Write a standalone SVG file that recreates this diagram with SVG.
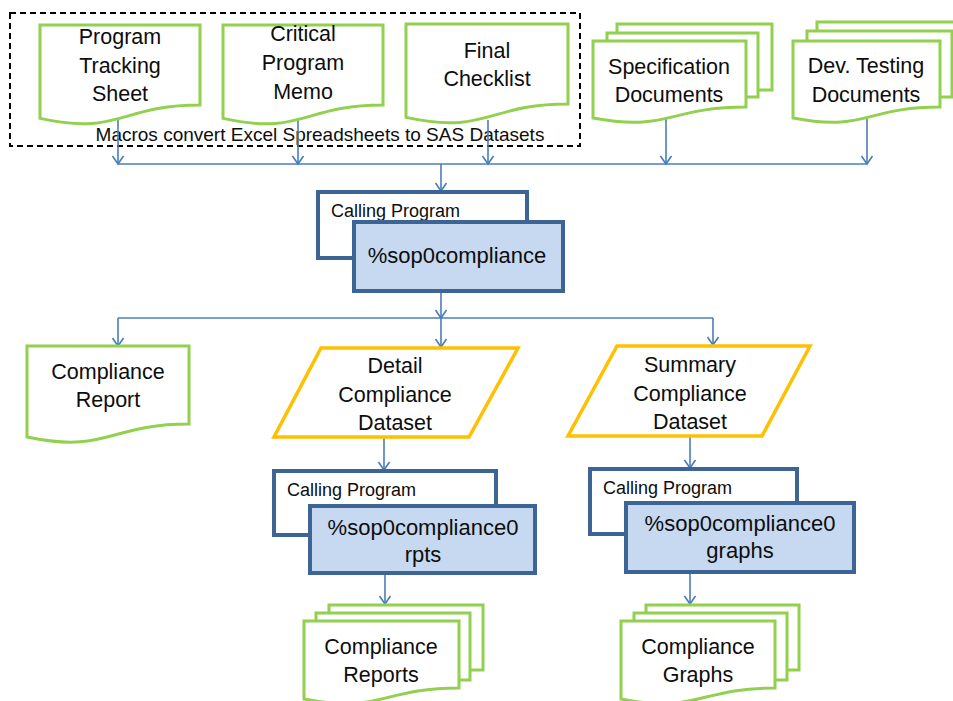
<svg xmlns="http://www.w3.org/2000/svg" width="953" height="701" viewBox="0 0 953 701">
<defs>
<marker id="arr" markerUnits="userSpaceOnUse" markerWidth="14" markerHeight="14" refX="10" refY="7" orient="auto" viewBox="0 0 14 14">
<path d="M2,1.5 L10,7 L2,12.5" fill="none" stroke="#4a7ebb" stroke-width="1.6"/>
</marker>
</defs>
<style>
text{font-family:"Liberation Sans",Arial,sans-serif;fill:#0d0d0d;text-anchor:middle;font-size:21.5px}
.doc{fill:#fff;stroke:#92d050;stroke-width:3}
.data{fill:#fff;stroke:#ffc000;stroke-width:3.5}
.outer{fill:#fff;stroke:#3c6494;stroke-width:4}
.inner{fill:#c6d9f1;stroke:#3c6494;stroke-width:4}
.cp{text-anchor:start;font-size:18px}
.mac{font-size:22px}
.conn{fill:none;stroke:#4a7ebb;stroke-width:1.6}
</style>
<rect x="10" y="13" width="570" height="133" fill="none" stroke="#000" stroke-width="2" stroke-dasharray="6,4"/>
<text x="320" y="141" style="font-size:19px">Macros convert Excel Spreadsheets to SAS Datasets</text>
<g id="connectors">
<path class="conn" d="M118,120 V164" marker-end="url(#arr)"/>
<path class="conn" d="M298,120 V164" marker-end="url(#arr)"/>
<path class="conn" d="M488,120 V164" marker-end="url(#arr)"/>
<path class="conn" d="M666,114 V164" marker-end="url(#arr)"/>
<path class="conn" d="M867,114 V164" marker-end="url(#arr)"/>
<path class="conn" d="M118,164 H867"/>
<path class="conn" d="M441,164 V191" marker-end="url(#arr)"/>
<path class="conn" d="M441,291 V318" marker-end="url(#arr)"/>
<path class="conn" d="M118,318 H713"/>
<path class="conn" d="M118,318 V346" marker-end="url(#arr)"/>
<path class="conn" d="M441,318 V347" marker-end="url(#arr)"/>
<path class="conn" d="M713,318 V345" marker-end="url(#arr)"/>
<path class="conn" d="M384,437 V470" marker-end="url(#arr)"/>
<path class="conn" d="M385,573 V604" marker-end="url(#arr)"/>
<path class="conn" d="M690,436 V468" marker-end="url(#arr)"/>
<path class="conn" d="M690,572 V604" marker-end="url(#arr)"/>
</g>
<g id="program-tracking-sheet">
<path class="doc" d="M40,25 H200 V105 C120,105 120,136 40,118.4 Z"/>
<text x="120" y="44">Program</text>
<text x="120" y="73">Tracking</text>
<text x="120" y="101">Sheet</text>
</g>
<g id="critical-program-memo">
<path class="doc" d="M223,25 H383 V105 C303,105 303,136 223,118.4 Z"/>
<text x="303" y="41">Critical</text>
<text x="303" y="70">Program</text>
<text x="303" y="99">Memo</text>
</g>
<g id="final-checklist">
<path class="doc" d="M406,24 H568 V104 C487,104 487,135 406,117.4 Z"/>
<text x="487" y="58">Final</text>
<text x="487" y="86">Checklist</text>
</g>
<g id="specification-documents">
<rect class="doc" x="617" y="24" width="155" height="66"/>
<rect class="doc" x="607" y="33" width="151" height="64"/>
<path class="doc" d="M593,41 H746 V107 C669,107 669,132 593,118 Z"/>
<text x="669" y="74">Specification</text>
<text x="669" y="102">Documents</text>
</g>
<g id="dev-testing-documents">
<rect class="doc" x="817" y="22" width="150" height="68"/>
<rect class="doc" x="807" y="31" width="145" height="66"/>
<path class="doc" d="M793,41 H940 V107 C866,107 866,132 793,118 Z"/>
<text x="866" y="73">Dev. Testing</text>
<text x="866" y="102">Documents</text>
</g>
<g id="calling-program-main">
<rect class="outer" x="318" y="192" width="209" height="66"/>
<text class="cp" x="331" y="217">Calling Program</text>
<rect class="inner" x="354" y="222" width="209" height="69"/>
<text x="457" y="263" class="mac">%sop0compliance</text>
</g>
<g id="compliance-report">
<path class="doc" d="M27,346 H189 V424 C108,424 108,454 27,437 Z"/>
<text x="108" y="379">Compliance</text>
<text x="108" y="407">Report</text>
</g>
<g id="detail-compliance-dataset">
<path class="data" d="M321,348 H518 L469,437 H274 Z"/>
<text x="395" y="373">Detail</text>
<text x="395" y="402">Compliance</text>
<text x="395" y="430">Dataset</text>
</g>
<g id="summary-compliance-dataset">
<path class="data" d="M617,346 H810 L762,436 H568 Z"/>
<text x="690" y="372">Summary</text>
<text x="690" y="401">Compliance</text>
<text x="690" y="429">Dataset</text>
</g>
<g id="calling-program-rpts">
<rect class="outer" x="274" y="471" width="222" height="64"/>
<text class="cp" x="287" y="496">Calling Program</text>
<rect class="inner" x="310" y="506" width="225" height="67"/>
<text x="423" y="535" class="mac">%sop0compliance0</text>
<text x="423" y="562" class="mac">rpts</text>
</g>
<g id="calling-program-graphs">
<rect class="outer" x="590" y="469" width="207" height="65"/>
<text class="cp" x="603" y="494">Calling Program</text>
<rect class="inner" x="626" y="503" width="228" height="69"/>
<text x="740" y="531" class="mac">%sop0compliance0</text>
<text x="740" y="558" class="mac">graphs</text>
</g>
<g id="compliance-reports">
<rect class="doc" x="329" y="605" width="154" height="65"/>
<rect class="doc" x="316" y="613" width="154" height="67"/>
<path class="doc" d="M304,621 H459 V688 C381,688 381,714 304,699 Z"/>
<text x="381" y="654">Compliance</text>
<text x="381" y="682">Reports</text>
</g>
<g id="compliance-graphs">
<rect class="doc" x="646" y="605" width="153" height="65"/>
<rect class="doc" x="634" y="613" width="153" height="67"/>
<path class="doc" d="M621,621 H775 V688 C698,688 698,714 621,699 Z"/>
<text x="698" y="654">Compliance</text>
<text x="698" y="682">Graphs</text>
</g>
</svg>
